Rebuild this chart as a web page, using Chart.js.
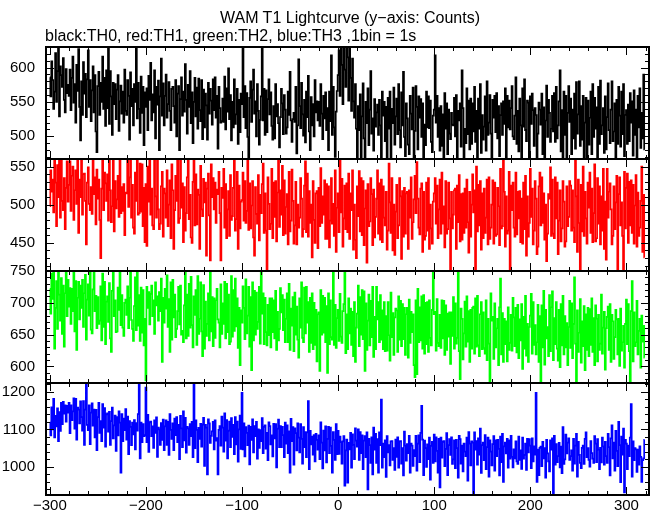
<!DOCTYPE html>
<html>
<head>
<meta charset="utf-8">
<script src="https://cdn.jsdelivr.net/npm/chart.js@4/dist/chart.umd.min.js"></script>
<style>
  body { margin: 0; background: #fff; }
  #wrap { position: relative; width: 652px; height: 515px; font-family: "Liberation Sans", Arial, sans-serif; color: #000; }
  #lc { position: absolute; left: 0; top: 0; }
  #title { position: absolute; left: 0; width: 700px; top: 9px; text-align: center; font-size: 16px; line-height: 18px; }
  #sub { position: absolute; left: 45px; top: 27px; font-size: 16px; line-height: 18px; white-space: nowrap; }
</style>
</head>
<body>
<div id="wrap">
  <canvas id="lc" width="652" height="515"></canvas>
  <div id="title">WAM T1 Lightcurve (y&#8722;axis: Counts)</div>
  <div id="sub">black:TH0, red:TH1, green:TH2, blue:TH3 ,1bin = 1s</div>
</div>
<script>
// 1 s bins starting at t = -300 s
const t0 = -300

const th0 = [
  586, 558, 609, 582, 540, 565, 621, 550, 595, 654, 529, 602, 589, 572, 614, 553, 535, 598, 563, 575,
  559, 597, 538, 585, 616, 549, 576, 520, 604, 566, 627, 543, 494, 580, 531, 608, 562, 591, 528, 583,
  625, 543, 582, 522, 567, 602, 535, 589, 507, 477, 573, 594, 531, 578, 550, 616, 540, 585, 515, 596,
  541, 636, 518, 595, 558, 502, 578, 547, 576, 525, 568, 589, 508, 551, 574, 533, 565, 520, 597, 537,
  531, 582, 559, 495, 593, 544, 569, 516, 576, 550, 640, 526, 578, 540, 505, 587, 534, 572, 487, 564,
  543, 570, 509, 588, 553, 607, 523, 561, 535, 596, 497, 572, 546, 581, 480, 558, 613, 530, 577, 516,
  559, 590, 527, 547, 579, 537, 509, 569, 572, 544, 520, 582, 500, 562, 573, 480, 554, 586, 530, 565,
  536, 605, 553, 504, 575, 543, 595, 519, 564, 490, 550, 585, 529, 571, 511, 584, 538, 522, 582, 496,
  568, 513, 562, 545, 495, 578, 533, 569, 552, 517, 583, 538, 586, 527, 559, 482, 572, 541, 520, 522,
  555, 521, 587, 510, 570, 536, 599, 525, 560, 494, 550, 513, 583, 518, 532, 569, 489, 553, 506, 562,
  547, 632, 528, 573, 512, 563, 499, 466, 556, 580, 521, 568, 597, 533, 551, 500, 576, 537, 488, 524,
  558, 628, 523, 569, 502, 567, 506, 554, 583, 532, 564, 515, 495, 544, 497, 576, 529, 547, 519, 484,
  528, 569, 548, 503, 560, 539, 504, 513, 565, 531, 594, 523, 492, 525, 534, 521, 572, 475, 516, 612,
  544, 512, 578, 532, 501, 553, 491, 565, 528, 588, 507, 480, 557, 516, 547, 500, 582, 535, 551, 523,
  550, 515, 576, 533, 496, 559, 526, 564, 509, 541, 480, 565, 522, 618, 502, 572, 513, 470, 536, 566,
  589, 625, 559, 657, 604, 547, 649, 597, 572, 667, 615, 552, 638, 585, 537, 613, 551, 527, 576, 511,
  460, 544, 509, 561, 458, 529, 577, 497, 462, 550, 519, 570, 487, 539, 595, 504, 526, 479, 554, 514,
  535, 546, 502, 553, 516, 460, 565, 530, 550, 493, 543, 461, 556, 511, 565, 462, 540, 519, 571, 488,
  529, 555, 503, 576, 509, 484, 564, 516, 594, 499, 471, 548, 526, 488, 474, 559, 533, 510, 571, 463,
  508, 573, 543, 481, 558, 527, 554, 499, 548, 467, 517, 487, 565, 513, 558, 512, 552, 492, 477, 530,
  539, 618, 520, 559, 499, 541, 479, 544, 486, 532, 464, 563, 511, 548, 474, 539, 504, 496, 534, 517,
  516, 556, 500, 560, 469, 537, 523, 548, 485, 596, 541, 463, 511, 490, 570, 503, 552, 481, 555, 489,
  548, 507, 572, 492, 537, 467, 555, 511, 576, 476, 531, 495, 514, 558, 479, 580, 502, 520, 560, 504,
  462, 553, 527, 559, 506, 563, 497, 544, 471, 531, 548, 502, 551, 518, 570, 469, 559, 513, 552, 510,
  541, 573, 500, 496, 530, 586, 489, 537, 478, 555, 516, 452, 570, 514, 583, 509, 493, 552, 549, 467,
  558, 518, 562, 538, 486, 541, 531, 469, 504, 549, 539, 517, 562, 474, 542, 454, 523, 574, 499, 553,
  534, 492, 511, 559, 507, 563, 492, 572, 497, 516, 551, 596, 478, 538, 464, 565, 502, 559, 465, 534,
  573, 521, 555, 474, 539, 497, 562, 482, 579, 504, 532, 580, 486, 544, 495, 559, 467, 520, 556, 464,
  552, 488, 527, 565, 474, 576, 499, 556, 511, 542, 462, 572, 489, 581, 503, 516, 541, 476, 558, 481,
  528, 577, 509, 490, 539, 580, 493, 507, 548, 463, 553, 489, 572, 530, 485, 565, 503, 576, 471, 531,
  538, 489, 546, 493, 563, 520, 551, 472, 567, 502, 539, 465, 559, 513, 570, 483, 534, 497, 590, 481
]

const th1 = [
  498, 545, 517, 533, 490, 581, 529, 472, 552, 510, 570, 483, 582, 505, 493, 535, 468, 522, 557, 504,
  526, 557, 492, 538, 550, 480, 519, 545, 501, 573, 463, 533, 510, 562, 487, 540, 541, 505, 448, 529,
  549, 501, 493, 523, 488, 581, 514, 536, 474, 546, 508, 533, 480, 430, 521, 579, 493, 542, 528, 505,
  540, 479, 566, 519, 477, 498, 582, 465, 531, 495, 507, 538, 484, 576, 489, 523, 492, 527, 460, 516,
  515, 561, 497, 536, 581, 483, 526, 470, 462, 542, 505, 573, 487, 489, 554, 491, 553, 472, 522, 451,
  527, 446, 550, 504, 570, 487, 521, 473, 468, 562, 511, 483, 583, 494, 468, 475, 524, 543, 458, 521,
  515, 483, 545, 472, 500, 532, 456, 553, 519, 442, 493, 538, 505, 559, 476, 482, 570, 496, 528, 451,
  523, 466, 489, 536, 571, 481, 513, 457, 450, 530, 562, 473, 540, 474, 520, 513, 442, 551, 494, 485,
  534, 503, 529, 433, 521, 541, 486, 427, 553, 510, 535, 494, 529, 476, 520, 514, 543, 489, 427, 522,
  509, 547, 470, 527, 456, 494, 518, 459, 539, 480, 485, 522, 568, 466, 481, 543, 442, 525, 469, 504,
  506, 542, 479, 531, 476, 492, 566, 467, 528, 469, 499, 531, 457, 433, 523, 488, 475, 539, 453, 513,
  489, 527, 554, 463, 515, 466, 410, 536, 501, 468, 475, 547, 456, 529, 484, 531, 452, 516, 565, 471,
  519, 487, 551, 460, 532, 462, 497, 514, 448, 543, 465, 479, 546, 505, 449, 473, 530, 448, 500, 470,
  483, 535, 508, 458, 468, 525, 557, 464, 541, 458, 518, 476, 500, 431, 531, 480, 450, 515, 518, 443,
  522, 472, 548, 476, 511, 487, 532, 455, 527, 455, 524, 444, 479, 535, 475, 501, 459, 545, 438, 496,
  515, 464, 566, 490, 534, 445, 482, 525, 468, 528, 464, 541, 455, 515, 493, 545, 441, 500, 454, 430,
  524, 485, 544, 465, 535, 460, 531, 447, 495, 519, 424, 527, 472, 478, 535, 514, 447, 520, 457, 484,
  508, 545, 462, 528, 454, 533, 451, 524, 483, 473, 517, 441, 466, 554, 503, 463, 535, 440, 500, 434,
  491, 526, 456, 473, 535, 511, 429, 518, 458, 522, 462, 515, 517, 442, 519, 483, 536, 455, 477, 507,
  538, 489, 556, 508, 470, 461, 521, 528, 438, 517, 454, 459, 529, 466, 535, 442, 500, 469, 449, 504,
  515, 535, 475, 525, 456, 494, 533, 462, 542, 475, 498, 444, 531, 462, 468, 529, 482, 415, 517, 469,
  487, 519, 521, 442, 525, 477, 539, 452, 514, 454, 515, 463, 521, 470, 533, 477, 437, 517, 458, 500,
  540, 490, 519, 410, 550, 465, 526, 473, 531, 441, 515, 456, 521, 463, 483, 533, 448, 536, 455, 470,
  500, 532, 449, 529, 459, 461, 522, 498, 447, 547, 469, 472, 566, 517, 445, 511, 462, 466, 543, 410,
  525, 493, 529, 470, 458, 542, 461, 517, 482, 518, 451, 508, 449, 529, 468, 538, 433, 511, 458, 476,
  547, 484, 521, 448, 466, 531, 508, 435, 445, 524, 542, 473, 536, 476, 515, 454, 500, 426, 462, 514,
  508, 549, 459, 533, 462, 456, 536, 482, 529, 435, 479, 519, 452, 469, 531, 504, 445, 452, 524, 472,
  484, 531, 525, 466, 519, 470, 451, 566, 511, 438, 533, 476, 410, 526, 465, 550, 459, 517, 482, 449,
  529, 496, 542, 463, 521, 451, 489, 553, 452, 456, 535, 475, 524, 448, 511, 466, 547, 442, 504, 428,
  547, 483, 517, 528, 494, 448, 459, 524, 468, 503, 538, 412, 514, 536, 473, 503, 459, 411, 543, 469,
  522, 541, 450, 530, 473, 532, 463, 526, 449, 499, 539, 445, 516, 459, 470, 505, 550, 438, 513, 431
]

const th2 = [
  722, 683, 746, 706, 777, 628, 692, 734, 659, 757, 713, 672, 739, 651, 727, 631, 715, 773, 679, 736,
  694, 723, 667, 722, 687, 774, 655, 734, 626, 708, 733, 674, 727, 692, 736, 662, 715, 744, 642, 705,
  729, 680, 756, 658, 652, 721, 775, 687, 711, 660, 709, 667, 672, 726, 641, 746, 662, 733, 635, 702,
  710, 670, 731, 644, 623, 719, 757, 679, 704, 654, 655, 724, 689, 774, 665, 712, 661, 648, 700, 705,
  681, 726, 660, 708, 761, 673, 659, 640, 695, 740, 657, 778, 664, 712, 640, 724, 653, 720, 633, 675,
  578, 725, 692, 717, 666, 714, 727, 679, 704, 651, 732, 696, 710, 672, 717, 687, 738, 607, 708, 669,
  722, 691, 743, 662, 706, 623, 732, 642, 736, 677, 713, 646, 659, 687, 725, 666, 727, 650, 656, 638,
  696, 748, 644, 713, 648, 730, 661, 741, 665, 630, 710, 681, 720, 634, 742, 651, 675, 732, 655, 616,
  728, 628, 702, 648, 667, 715, 641, 756, 655, 709, 632, 707, 645, 704, 722, 674, 669, 630, 729, 651,
  699, 667, 733, 644, 730, 654, 713, 635, 639, 742, 647, 720, 656, 738, 663, 707, 629, 692, 602, 688,
  669, 726, 692, 643, 737, 652, 680, 725, 631, 709, 594, 732, 641, 719, 650, 716, 659, 670, 725, 636,
  756, 683, 715, 635, 708, 654, 633, 697, 649, 707, 630, 707, 654, 704, 644, 719, 626, 686, 641, 659,
  723, 685, 712, 657, 705, 638, 675, 715, 638, 730, 626, 691, 664, 709, 624, 716, 650, 694, 642, 614,
  707, 661, 732, 645, 638, 724, 652, 725, 669, 701, 623, 708, 637, 715, 627, 700, 634, 689, 608, 682,
  685, 593, 720, 650, 711, 653, 708, 638, 695, 590, 715, 635, 704, 646, 642, 756, 634, 697, 629, 676,
  689, 640, 714, 647, 637, 687, 698, 758, 621, 682, 627, 707, 652, 691, 634, 686, 616, 701, 607, 661,
  683, 727, 632, 709, 650, 720, 643, 718, 593, 699, 626, 672, 713, 633, 703, 646, 725, 615, 678, 627,
  725, 674, 701, 638, 712, 642, 688, 627, 701, 624, 679, 625, 701, 649, 609, 716, 646, 684, 618, 677,
  691, 688, 623, 710, 642, 703, 632, 698, 643, 692, 618, 682, 692, 614, 705, 637, 686, 654, 682, 602,
  583, 704, 588, 722, 638, 693, 641, 710, 628, 712, 620, 700, 635, 701, 623, 704, 645, 633, 689, 748,
  682, 686, 625, 706, 637, 632, 681, 629, 704, 644, 703, 618, 696, 626, 683, 647, 685, 604, 685, 648,
  709, 628, 699, 636, 645, 752, 624, 580, 691, 675, 611, 652, 702, 631, 710, 639, 687, 607, 689, 628,
  692, 694, 620, 707, 631, 711, 633, 616, 682, 701, 627, 685, 629, 620, 704, 610, 675, 636, 574, 715,
  672, 678, 612, 699, 630, 660, 675, 602, 693, 738, 619, 684, 607, 675, 635, 671, 608, 693, 626, 637,
  681, 625, 708, 677, 632, 692, 622, 697, 613, 674, 641, 698, 596, 678, 628, 711, 617, 667, 607, 662,
  680, 714, 620, 701, 634, 665, 619, 638, 697, 607, 679, 574, 696, 630, 719, 603, 689, 644, 662, 616,
  712, 624, 693, 718, 610, 676, 635, 701, 628, 609, 689, 599, 698, 633, 711, 619, 679, 630, 668, 602,
  662, 703, 629, 699, 613, 667, 740, 636, 573, 688, 623, 653, 706, 606, 671, 632, 695, 594, 682, 626,
  692, 616, 690, 634, 707, 623, 676, 602, 696, 675, 608, 681, 626, 636, 713, 620, 661, 686, 595, 660,
  678, 694, 626, 698, 607, 681, 671, 612, 646, 689, 674, 619, 675, 601, 691, 625, 638, 664, 598, 667,
  705, 635, 698, 624, 573, 687, 734, 608, 685, 632, 638, 703, 619, 656, 675, 598, 680, 639, 664, 614
]

const th3 = [
  1118, 1084, 1159, 1100, 1182, 1079, 1136, 1108, 1156, 1069, 1146, 1096, 1171, 1114, 1174, 1142, 1164, 1121, 1163, 1145,
  1171, 1090, 1164, 1125, 1148, 1183, 1102, 1182, 1073, 1158, 1153, 1116, 1175, 1133, 1097, 1176, 1059, 1153, 1228, 1112,
  1098, 1164, 1061, 1145, 1170, 1110, 1153, 1079, 1152, 1045, 1133, 1171, 1091, 1122, 1069, 1168, 1105, 1157, 1054, 1140,
  1143, 1094, 1147, 1059, 1122, 1158, 1076, 1111, 1137, 1043, 1133, 1084, 1148, 1118, 985, 1141, 1069, 1129, 1098, 1154,
  1073, 1134, 1034, 1122, 1107, 1058, 1118, 1087, 1125, 1047, 1117, 1097, 1141, 1228, 1023, 1118, 1066, 1114, 1082, 1085,
  1212, 1066, 1139, 1040, 1119, 1121, 1082, 1108, 1051, 1124, 1091, 1132, 1027, 1105, 1100, 1059, 1117, 1072, 1126, 1045,
  1108, 1124, 1059, 1120, 1032, 1141, 1099, 1075, 1116, 1045, 1129, 1085, 1133, 1066, 1112, 1021, 1136, 1103, 1053, 1148,
  1071, 1131, 1038, 1107, 1103, 1059, 1114, 1082, 1120, 1026, 1226, 1050, 1124, 1099, 1013, 1104, 1075, 1115, 1054, 1113,
  1131, 1003, 1112, 1105, 980, 1127, 1116, 1064, 1083, 1095, 1120, 1047, 1124, 1070, 1077, 980, 1099, 1109, 1057, 1134,
  1105, 1041, 1143, 1070, 1125, 1023, 1097, 1121, 1053, 1130, 1080, 1112, 1034, 1133, 1060, 1121, 1014, 1100, 1137, 1048,
  1198, 1047, 1116, 1028, 1106, 1091, 1058, 1110, 1007, 1107, 1072, 1127, 1039, 1109, 1082, 1120, 1022, 1100, 1051, 1098,
  1069, 1130, 1037, 1107, 1111, 1049, 1091, 1018, 1119, 1109, 1060, 1084, 1028, 1115, 1076, 1114, 999, 1102, 1126, 1053,
  1109, 1053, 1107, 1085, 1026, 1118, 1062, 1111, 1037, 1095, 985, 1128, 1069, 1106, 1006, 1103, 1090, 1044, 1116, 1078,
  1039, 1114, 1075, 1009, 1106, 1053, 1093, 1026, 1092, 1176, 994, 1096, 1060, 1081, 1033, 1085, 1015, 1088, 1072, 1046,
  1084, 1021, 1119, 1065, 996, 1097, 1044, 1108, 1012, 1075, 1107, 1037, 1105, 1056, 985, 1093, 1072, 1019, 1114, 1034,
  1096, 1035, 1081, 1066, 1009, 1068, 1082, 950, 1044, 1073, 958, 1064, 1047, 1091, 998, 1087, 1059, 1021, 1103, 1070,
  1054, 1100, 1019, 1093, 1037, 1084, 994, 1070, 1082, 1026, 1092, 940, 1075, 1058, 1011, 1079, 980, 1105, 1046, 1088,
  1011, 1074, 985, 1092, 1058, 1180, 998, 1062, 1026, 1071, 973, 1082, 1039, 1058, 1004, 1068, 1069, 1019, 1050, 992,
  1073, 1027, 1079, 998, 1068, 1069, 1009, 1050, 977, 1094, 1057, 1017, 1061, 1037, 1083, 985, 1062, 1057, 1003, 1045,
  1029, 1083, 990, 1062, 1084, 1013, 1091, 1163, 1073, 978, 1070, 1050, 1000, 1060, 1021, 1078, 966, 1056, 1067, 1011,
  1086, 1015, 1079, 1043, 985, 1075, 945, 1078, 1025, 1067, 1069, 1002, 1048, 1090, 978, 1058, 1074, 1032, 1079, 1008,
  1020, 1071, 997, 1072, 1050, 971, 1083, 1074, 1009, 1057, 988, 1062, 1041, 1029, 1078, 963, 1093, 1062, 1004, 1068,
  1065, 926, 1092, 1046, 1069, 1006, 1076, 1033, 1102, 984, 1058, 1065, 1018, 1085, 994, 1053, 1078, 974, 1071, 1041,
  1004, 1061, 1082, 990, 1071, 1029, 1072, 1048, 977, 1081, 1013, 1088, 960, 1055, 1065, 1036, 1075, 998, 1071, 1022,
  1083, 1027, 999, 1047, 1023, 1068, 1015, 1008, 1081, 1019, 1044, 995, 1078, 1022, 1032, 1062, 992, 1075, 1039, 1074,
  1057, 997, 1076, 1015, 1055, 1033, 1198, 960, 1046, 978, 1051, 1054, 1002, 1067, 1023, 1050, 971, 1072, 1036, 1015,
  988, 1071, 1046, 1076, 927, 1083, 1006, 1061, 1013, 1029, 1064, 999, 1054, 983, 1106, 1008, 1020, 1086, 1036, 1065,
  1076, 1019, 1029, 1044, 990, 1075, 1009, 1057, 1088, 974, 1067, 1032, 1011, 997, 1051, 1057, 1008, 1075, 1092, 1026,
  1050, 1019, 1001, 1069, 1037, 1022, 1011, 1082, 1062, 1013, 1074, 1046, 994, 1051, 1012, 1078, 1055, 1006, 1067, 1029,
  1011, 1088, 1053, 977, 1076, 1111, 1023, 1065, 990, 1096, 1043, 1002, 1120, 1058, 959, 1081, 1033, 1102, 932, 1072,
  1062, 994, 1057, 1029, 1078, 1168, 974, 1068, 1018, 1050, 1047, 987, 1046, 1006, 1055, 1027, 960, 1018, 1023, 1072
]

const times = th0.map((_, i) => t0 + i)

const xTicks = [-300, -200, -100, 0, 100, 200, 300]
const yTicks0 = [500, 550, 600]
const yTicks1 = [450, 500, 550]
const yTicks2 = [600, 650, 700, 750]
const yTicks3 = [1000, 1100, 1200]

// top to bottom
const panels = [
  { id: "y0", label: "TH0", data: th0, color: "#000000", min: 467, max: 630, ticks: yTicks0, minor: 10, major: 50 },
  { id: "y1", label: "TH1", data: th1, color: "#ff0000", min: 413, max: 560, ticks: yTicks1, minor: 10, major: 50 },
  { id: "y2", label: "TH2", data: th2, color: "#00ff00", min: 574, max: 750, ticks: yTicks2, minor: 10, major: 50 },
  { id: "y3", label: "TH3", data: th3, color: "#0000ff", min: 925, max: 1224, ticks: yTicks3, minor: 20, major: 100 }
]

const minus = v => v < 0 ? "\u2212" + (-v) : String(v)

const scales = {
  x: {
    type: "linear", min: -304, max: 323.5,
    grid: { display: false, drawTicks: false }, border: { display: false },
    afterBuildTicks: s => { s.ticks = xTicks.map(v => ({ value: v })) },
    afterFit: s => { s.height = 19 },
    ticks: { padding: 2, maxRotation: 0, autoSkip: false, callback: v => minus(v), font: { size: 15 } }
  }
}

// later scales are stacked higher, so add the bottom panel first
panels.slice().reverse().forEach(p => {
  scales[p.id] = {
    type: "linear", position: "left", stack: "lc", stackWeight: 1,
    min: p.min, max: p.max,
    grid: { display: false, drawTicks: false }, border: { display: false },
    afterBuildTicks: s => { s.ticks = p.ticks.map(v => ({ value: v })) },
    afterFit: s => { s.width = 46 },
    ticks: { padding: 11, autoSkip: false, callback: v => String(v), font: { size: 15 } }
  }
})

const frame = {
  id: "frame",
  beforeDatasetDraw(chart, args) {
    const ys = chart.scales[args.meta.yAxisID]
    const ctx = chart.ctx
    ctx.save()
    ctx.beginPath()
    ctx.rect(chart.chartArea.left, ys.top, chart.chartArea.width, ys.height)
    ctx.clip()
  },
  afterDatasetDraw(chart) {
    chart.ctx.restore()
  },
  afterDraw(chart) {
    const ctx = chart.ctx
    const xs = chart.scales.x
    const L = chart.chartArea.left, R = chart.chartArea.right
    ctx.save()
    ctx.strokeStyle = "#000"
    ctx.lineWidth = 1
    ctx.beginPath()
    panels.forEach(p => {
      const ys = chart.scales[p.id]
      for (let v = -300; v <= 320; v += 20) {
        const px = Math.round(xs.getPixelForValue(v)) + 0.5
        const len = v % 100 === 0 ? 8 : 4
        ctx.moveTo(px, ys.top); ctx.lineTo(px, ys.top + len)
        ctx.moveTo(px, ys.bottom); ctx.lineTo(px, ys.bottom - len)
      }
      for (let v = Math.ceil(p.min / p.minor) * p.minor; v <= p.max; v += p.minor) {
        const py = Math.round(ys.getPixelForValue(v)) + 0.5
        const len = v % p.major === 0 ? 8 : 4
        ctx.moveTo(L, py); ctx.lineTo(L + len, py)
        ctx.moveTo(R, py); ctx.lineTo(R - len, py)
      }
    })
    ctx.stroke()
    ctx.lineWidth = 2
    panels.forEach(p => {
      const ys = chart.scales[p.id]
      ctx.strokeRect(L, ys.top, R - L, ys.bottom - ys.top)
    })
    ctx.restore()
  }
}

Chart.defaults.font.family = "'Liberation Sans', Arial, sans-serif"
Chart.defaults.color = "#000"

new Chart(document.getElementById("lc"), {
  type: "line",
  data: {
    labels: times,
    datasets: panels.map(p => ({
      label: p.label,
      data: p.data,
      yAxisID: p.id,
      borderColor: p.color,
      borderWidth: 1.7,
      pointRadius: 0,
      stepped: "middle",
      fill: false
    }))
  },
  options: {
    responsive: false,
    animation: false,
    layout: { padding: { top: 47, right: 3, bottom: 0, left: 0 } },
    plugins: { legend: { display: false }, tooltip: { enabled: false } },
    scales: scales
  },
  plugins: [frame]
})
</script>
</body>
</html>
